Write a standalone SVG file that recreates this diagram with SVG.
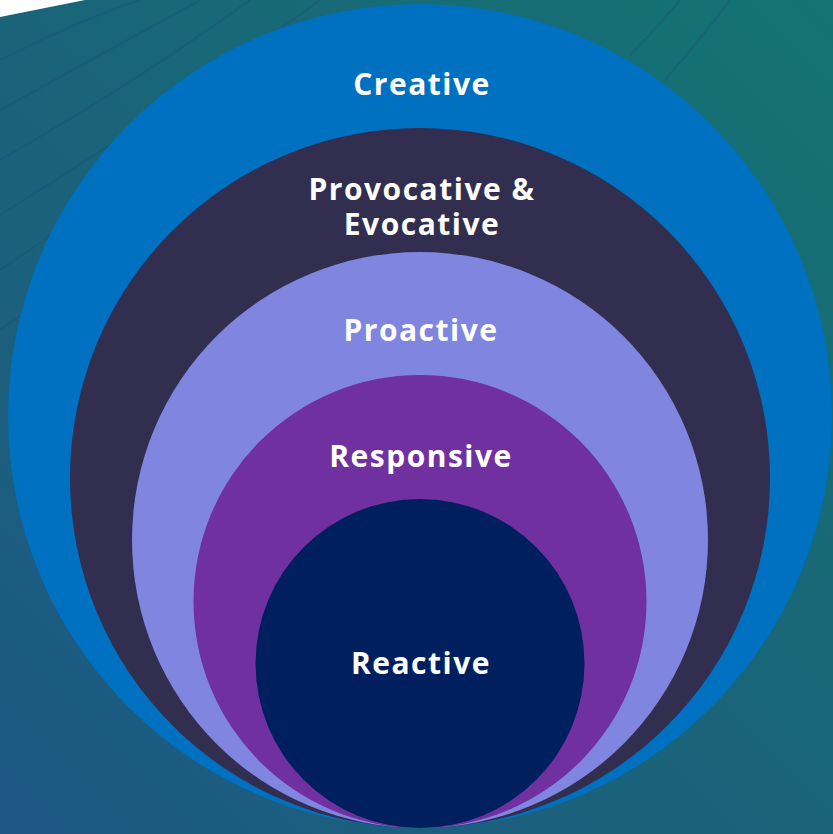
<svg xmlns="http://www.w3.org/2000/svg" width="833" height="834" viewBox="0 0 833 834">
  <defs>
    <linearGradient id="bg" x1="0" y1="1" x2="1" y2="0">
      <stop offset="0" stop-color="#1d5884"/>
      <stop offset="0.5" stop-color="#1a6479"/>
      <stop offset="1" stop-color="#147472"/>
    </linearGradient>
    <style>
      .lbl { font-family: "Open Sans", "Liberation Sans", sans-serif; font-weight: 700; font-size: 30px; fill: #ffffff; text-anchor: middle; letter-spacing: 1.5px; }
      .bgline { fill: none; stroke: #1d4c7c; stroke-width: 2; opacity: 0.35; }
    </style>
  </defs>
  <g id="background">
    <rect x="0" y="0" width="833" height="834" fill="url(#bg)"/>
    <path d="M0 0 H85 L0 17 Z" fill="#ffffff"/>
    <path class="bgline" d="M0 60 Q80 20 140 0"/>
    <path class="bgline" d="M0 110 Q110 50 200 0"/>
    <path class="bgline" d="M0 160 Q140 80 250 0"/>
    <path class="bgline" d="M0 215 Q170 110 320 0"/>
    <path class="bgline" d="M0 270 Q120 190 220 110"/>
    <path class="bgline" d="M0 330 Q60 290 100 250"/>
    <path class="bgline" d="M630 55 Q660 25 680 0"/>
    <path class="bgline" d="M665 80 Q700 40 730 0"/>
  </g>
  <g id="creative">
    <circle cx="420" cy="416" r="412" fill="#0070c0"/>
    <text class="lbl" x="422" y="95">Creative</text>
  </g>
  <g id="provocative">
    <circle cx="420" cy="478" r="350" fill="#312e50"/>
    <text class="lbl"><tspan x="422" y="200">Provocative &amp;</tspan><tspan x="422" y="235">Evocative</tspan></text>
  </g>
  <g id="proactive">
    <circle cx="420" cy="540" r="288" fill="#8085e0"/>
    <text class="lbl" x="421" y="341">Proactive</text>
  </g>
  <g id="responsive">
    <circle cx="420" cy="601.5" r="226.5" fill="#70309f"/>
    <text class="lbl" x="421" y="467">Responsive</text>
  </g>
  <g id="reactive">
    <circle cx="420" cy="663.5" r="164.5" fill="#001f5f"/>
    <text class="lbl" x="421" y="674">Reactive</text>
  </g>
  <g id="connectors"/>
</svg>
